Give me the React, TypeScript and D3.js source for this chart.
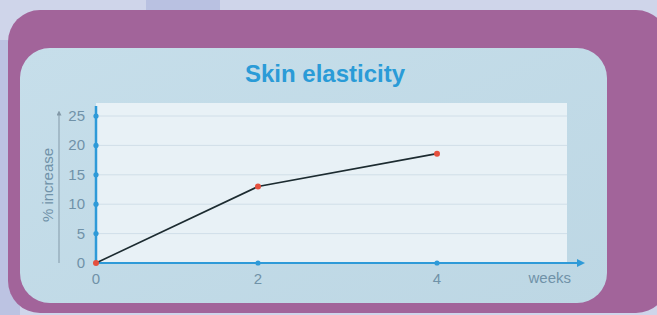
import React, { useEffect, useRef } from "react";
import * as d3 from "d3";

const weeks = [0, 2, 4];
const increase = [0, 13, 18.6];
const yTicks = [0, 5, 10, 15, 20, 25];
const xTicks = [0, 2, 4];

const W = 657;
const H = 315;

const App = () => {
  const ref = useRef<SVGSVGElement>(null);

  useEffect(() => {
    const svg = d3.select(ref.current);
    svg.selectAll("*").remove();

    // x axis in the picture is not quite linear, so map each tick
    const x = d3.scaleLinear().domain([0, 2, 4]).range([96, 258, 437]);
    const y = d3.scaleLinear().domain([0, 25]).range([263, 116]);

    const defs = svg.append("defs");
    const grad = defs.append("linearGradient").attr("id", "panel").attr("x1", 0).attr("x2", 1).attr("y1", 0).attr("y2", 1);
    grad.append("stop").attr("offset", "0%").attr("stop-color", "#c6deea");
    grad.append("stop").attr("offset", "100%").attr("stop-color", "#bdd7e4");

    defs.append("marker")
      .attr("id", "blueArrow").attr("viewBox", "0 0 10 10")
      .attr("refX", 5).attr("refY", 5)
      .attr("markerWidth", 4).attr("markerHeight", 4)
      .attr("orient", "auto")
      .append("path").attr("d", "M0,0 L10,5 L0,10 z").attr("fill", "#2e9ad8");
    defs.append("marker")
      .attr("id", "grayArrow").attr("viewBox", "0 0 10 10")
      .attr("refX", 5).attr("refY", 5)
      .attr("markerWidth", 5).attr("markerHeight", 5)
      .attr("orient", "auto")
      .append("path").attr("d", "M0,0 L10,5 L0,10 z").attr("fill", "#8399a8");

    // background
    svg.append("rect").attr("width", W).attr("height", H).attr("fill", "#cfd5ea");
    svg.append("rect").attr("x", 146).attr("y", 0).attr("width", 74).attr("height", 14).attr("fill", "#b9c1e1");
    svg.append("rect").attr("x", 0).attr("y", 40).attr("width", 20).attr("height", 275).attr("fill", "#bcc3e2");

    svg.append("rect").attr("x", 8).attr("y", 10).attr("width", 660).attr("height", 303)
      .attr("rx", 32).attr("fill", "#a2649a");
    svg.append("rect").attr("x", 20).attr("y", 48).attr("width", 587).attr("height", 255)
      .attr("rx", 30).attr("fill", "url(#panel)");

    // plot area
    svg.append("rect").attr("x", 96).attr("y", 103).attr("width", 471).attr("height", 160)
      .attr("fill", "#e8f1f6");

    svg.append("text").attr("x", 325).attr("y", 82).attr("text-anchor", "middle")
      .attr("font-family", "Liberation Sans, Arial, sans-serif").attr("font-weight", "bold")
      .attr("font-size", 24).attr("fill", "#2a9bd7").text("Skin elasticity");

    // grid
    svg.append("g").selectAll("line").data(yTicks.slice(1)).enter().append("line")
      .attr("x1", 96).attr("x2", 567)
      .attr("y1", d => y(d)).attr("y2", d => y(d))
      .attr("stroke", "#d0dee8").attr("stroke-width", 1);

    const labelFont = "Liberation Sans, Arial, sans-serif";
    const labelColor = "#7092a8";

    // y tick labels
    svg.append("g").selectAll("text").data(yTicks).enter().append("text")
      .attr("x", 85).attr("y", d => y(d) + 5).attr("text-anchor", "end")
      .attr("font-family", labelFont).attr("font-size", 15).attr("fill", labelColor)
      .text(d => d);

    // x tick labels
    svg.append("g").selectAll("text").data(xTicks).enter().append("text")
      .attr("x", d => x(d)).attr("y", 284).attr("text-anchor", "middle")
      .attr("font-family", labelFont).attr("font-size", 15).attr("fill", labelColor)
      .text(d => d);
    svg.append("text").attr("x", 571).attr("y", 283).attr("text-anchor", "end")
      .attr("font-family", labelFont).attr("font-size", 15).attr("fill", labelColor)
      .text("weeks");

    // y axis title with arrow
    svg.append("line").attr("x1", 59).attr("x2", 59).attr("y1", 263).attr("y2", 113)
      .attr("stroke", "#8399a8").attr("stroke-width", 1).attr("marker-end", "url(#grayArrow)");
    svg.append("text").attr("transform", "translate(53,185) rotate(-90)")
      .attr("text-anchor", "middle").attr("font-family", labelFont).attr("font-size", 15)
      .attr("fill", labelColor).text("% increase");

    // axes
    svg.append("line").attr("x1", x(0)).attr("x2", 581).attr("y1", y(0)).attr("y2", y(0))
      .attr("stroke", "#2e9ad8").attr("stroke-width", 2).attr("marker-end", "url(#blueArrow)");
    svg.append("line").attr("x1", x(0)).attr("x2", x(0)).attr("y1", y(0)).attr("y2", 106)
      .attr("stroke", "#2e9ad8").attr("stroke-width", 2.5);

    svg.append("g").selectAll("circle").data(yTicks.slice(1)).enter().append("circle")
      .attr("cx", x(0)).attr("cy", d => y(d)).attr("r", 2.6).attr("fill", "#2e9ad8");
    svg.append("g").selectAll("circle").data(xTicks.slice(1)).enter().append("circle")
      .attr("cx", d => x(d)).attr("cy", y(0)).attr("r", 2.6).attr("fill", "#2e9ad8");

    // data line
    const pts = weeks.map((w, i) => [w, increase[i]] as [number, number]);
    const line = d3.line<[number, number]>().x(d => x(d[0])).y(d => y(d[1]));
    svg.append("path").datum(pts).attr("d", line).attr("fill", "none")
      .attr("stroke", "#1c2b30").attr("stroke-width", 1.6);

    svg.append("g").selectAll("circle").data(pts).enter().append("circle")
      .attr("cx", d => x(d[0])).attr("cy", d => y(d[1])).attr("r", 3)
      .attr("fill", "#e5503e");
  }, []);

  return (
    <svg ref={ref} width={W} height={H} style={{ position: "absolute", left: 0, top: 0 }}></svg>
  );
};

export default App;
